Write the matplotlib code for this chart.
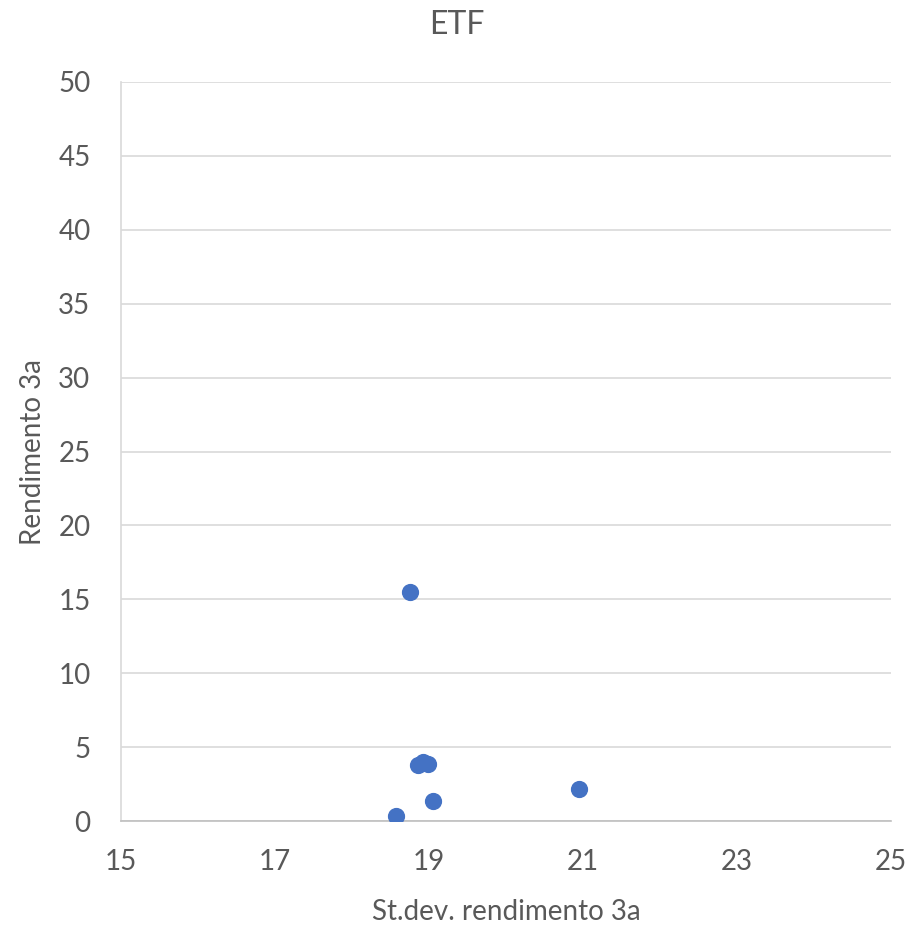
import matplotlib.pyplot as plt

plt.rcParams['font.family'] = ['Lato', 'DejaVu Sans']

# dati
std_dev = [18.75, 18.57, 19.05, 20.95, 18.86, 18.92, 18.99]
rendimento = [15.5, 0.35, 1.35, 2.15, 3.8, 4.0, 3.87]

fig = plt.figure(figsize=(9.13, 9.26), dpi=100)
ax = fig.add_axes([121/913, 1-821/926, 770/913, 739/926])

ax.scatter(std_dev, rendimento, s=130, color='#4472C4', zorder=3)

ax.set_xlim(15, 25)
ax.set_ylim(0, 50)
ax.set_xticks([15, 17, 19, 21, 23, 25])
ax.set_yticks(range(0, 51, 5))
ax.grid(axis='y', color='#d9d9d9', linewidth=1.2)
ax.set_axisbelow(True)

for s in ['top', 'right']:
    ax.spines[s].set_visible(False)
ax.spines['left'].set_color('#d9d9d9')
ax.spines['bottom'].set_color('#bfbfbf')
ax.spines['left'].set_linewidth(1.2)
ax.spines['bottom'].set_linewidth(1.2)

ax.tick_params(length=0, labelsize=20, labelcolor='#595959')
ax.tick_params(axis='x', pad=20)
ax.tick_params(axis='y', pad=22)

# etichette assi e titolo
fig.text(0.5 * (121 + 891) / 913, 1 - 912/926, 'St.dev. rendimento 3a',
         ha='center', va='center', fontsize=20, color='#595959')
fig.text(33/913, 1 - 452/926, 'Rendimento 3a', rotation=90,
         ha='center', va='center', fontsize=20, color='#595959')
fig.text(0.5, 1-25/926, 'ETF', ha='center', va='center', fontsize=23, color='#595959')

fig.savefig('out.png')
